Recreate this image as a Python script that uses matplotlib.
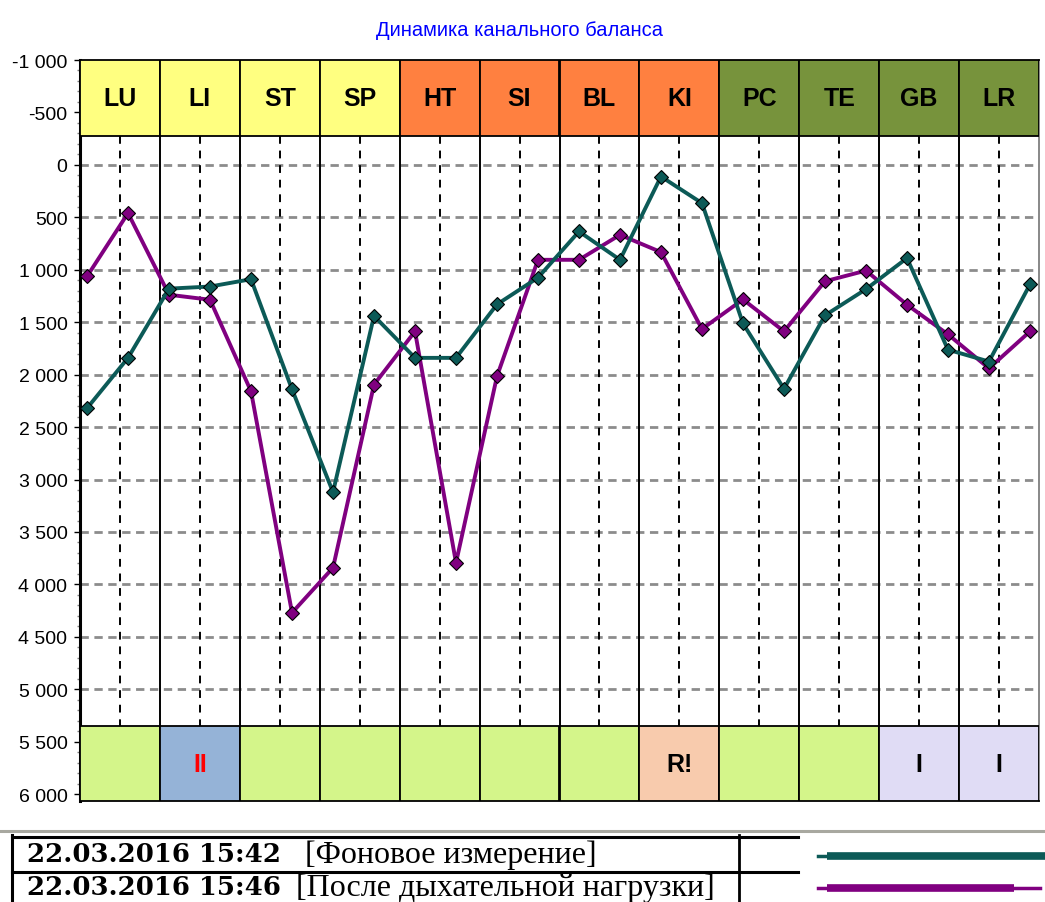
import numpy as np
import matplotlib
matplotlib.use("Agg")
import matplotlib.pyplot as plt
from matplotlib.patches import Rectangle
from matplotlib.lines import Line2D
from matplotlib.ticker import FuncFormatter, MultipleLocator
from matplotlib import font_manager

# ---------------- data ----------------
channels = ["LU", "LI", "ST", "SP", "HT", "SI", "BL", "KI", "PC", "TE", "GB", "LR"]
header_colors = ["#FFFF80"] * 4 + ["#FF8040"] * 4 + ["#77933C"] * 4
bottom_labels = ["", "II", "", "", "", "", "", "R!", "", "", "I", "I"]
bottom_label_colors = ["black", "red", "black", "black", "black", "black", "black",
                       "black", "black", "black", "black", "black"]
bottom_colors = ["#D4F58A", "#95B3D7", "#D4F58A", "#D4F58A", "#D4F58A", "#D4F58A",
                 "#D4F58A", "#F8CBAD", "#D4F58A", "#D4F58A", "#E0DCF5", "#E0DCF5"]

series_bg = [2320, 1840, 1180, 1160, 1090, 2140, 3120, 1440, 1840, 1840, 1330, 1075,
             635, 905, 111, 365, 1512, 2135, 1435, 1185, 889, 1762, 1875, 1140]
series_after = [1063, 460, 1238, 1286, 2159, 4270, 3841, 2095, 1587, 3794, 2015, 905,
                905, 667, 832, 1565, 1283, 1587, 1110, 1008, 1333, 1616, 1940, 1588]

title = "Динамика канального баланса"
legend_dates = ["22.03.2016 15:42", "22.03.2016 15:46"]
legend_names = ["[Фоновое измерение]", "[После дыхательной нагрузки]"]
color_bg = "#0C5A57"
color_after = "#800080"

# ---------------- fonts ----------------
names = {f.name for f in font_manager.fontManager.ttflist}
narrow = "Liberation Sans Narrow" in names
head_font = "Liberation Sans Narrow" if narrow else "Liberation Sans"
head_size = 20 if narrow else 18

W, H = 1045, 903
fig = plt.figure(figsize=(W / 100, H / 100), dpi=100)
fig.patch.set_facecolor("white")

def fx(px):
    return px / W

def fy(py):
    return 1 - py / H

ax = fig.add_axes([fx(80), fy(802), fx(1039) - fx(80), fy(61) - fy(802)])
ax.set_xlim(0, 12)
ax.set_ylim(6065, -1000)

head_bot = -278
band_top = 5350

# horizontal dashed grid
for v in np.arange(0, 5001, 500):
    ax.plot([0, 12], [v, v], color="#8C8C8C", lw=2.0, ls=(0, (3, 2)), zorder=1)
# vertical dashed middles
for i in range(12):
    ax.plot([i + 0.5, i + 0.5], [head_bot, band_top], color="black", lw=1.4,
            ls=(0, (4, 3.5)), zorder=1)

# header band and bottom band
for i, ch in enumerate(channels):
    ax.add_patch(Rectangle((i, -1000), 1, head_bot + 1000, facecolor=header_colors[i],
                           edgecolor="black", lw=1.3, zorder=3))
    ax.text(i + 0.5, (-1000 + head_bot) / 2, ch, ha="center", va="center",
            fontsize=head_size, fontweight="bold", family=head_font, zorder=4)
    ax.add_patch(Rectangle((i, band_top), 1, 6065 - band_top, facecolor=bottom_colors[i],
                           edgecolor="black", lw=1.3, zorder=3))
    if bottom_labels[i]:
        ax.text(i + 0.5, (band_top + 6065) / 2, bottom_labels[i], ha="center", va="center",
                fontsize=head_size, fontweight="bold", family=head_font,
                color=bottom_label_colors[i], zorder=4)

# solid column boundaries
for i in range(1, 12):
    ax.plot([i, i], [-1000, 6065], color="black", lw=1.4, zorder=2)

# series
n = len(series_bg)
xs = np.linspace(0.088, 11.887, n)
ax.plot(xs, series_bg, color=color_bg, lw=2.8, marker="D", markersize=7.5,
        markerfacecolor=color_bg, markeredgecolor="black", markeredgewidth=0.8, zorder=6)
ax.plot(xs, series_after, color=color_after, lw=2.8, marker="D", markersize=7.5,
        markerfacecolor=color_after, markeredgecolor="black", markeredgewidth=0.8, zorder=5)

# axes styling
ax.set_xticks([])
ax.yaxis.set_major_locator(MultipleLocator(500))
ax.yaxis.set_minor_locator(MultipleLocator(100))
ax.yaxis.set_major_formatter(FuncFormatter(
    lambda v, p: ("-" if v < 0 else "") + f"{abs(int(round(v))):,}".replace(",", " ")))
ax.tick_params(axis="y", which="major", length=4, width=1, pad=5, labelsize=14,
               colors="black")
ax.tick_params(axis="y", which="minor", length=2, width=1, color="#808080")
for lab in ax.get_yticklabels():
    lab.set_family("Liberation Sans")
for s in ax.spines.values():
    s.set_color("black")
    s.set_linewidth(1.3)
ax.spines["left"].set_linewidth(2.2)
ax.spines["right"].set_color("#7F7F7F")

# title
fig.text(fx(520), fy(30), title, ha="center", va="center", color="#0000FF",
         fontsize=14.5, family="Liberation Sans")

# ---------------- legend table ----------------
def hline(x0, x1, y, color="black", lw=2.0):
    fig.add_artist(Line2D([fx(x0), fx(x1)], [fy(y), fy(y)], color=color, lw=lw))

def vline(x, y0, y1, color="black", lw=2.0):
    fig.add_artist(Line2D([fx(x), fx(x)], [fy(y0), fy(y1)], color=color, lw=lw))

hline(0, W, 832, color="#A8A8A0", lw=2.2)
hline(12, 798, 837.5, lw=2.2)
hline(12, 798, 872.5, lw=2.2)
vline(12, 836, 903, lw=2.2)
vline(739, 836, 903, lw=2.0)

row_y = [855, 888]
bracket_x = [305, 296]
for k in range(2):
    fig.text(fx(27), fy(row_y[k]), legend_dates[k], ha="left", va="center",
             fontsize=18.7, fontweight="bold", family="DejaVu Serif")
    fig.text(fx(bracket_x[k]), fy(row_y[k]), legend_names[k], ha="left", va="center",
             fontsize=23, family="Liberation Serif")

fig.add_artist(Line2D([fx(818), fx(828)], [fy(856.5), fy(856.5)], color=color_bg, lw=2.5))
fig.add_artist(Line2D([fx(827), fx(1045)], [fy(856.5), fy(856.5)], color=color_bg, lw=5.5,
                      solid_capstyle="butt"))
fig.add_artist(Line2D([fx(818), fx(828)], [fy(888.5), fy(888.5)], color=color_after, lw=2.5))
fig.add_artist(Line2D([fx(827), fx(1014)], [fy(888.5), fy(888.5)], color=color_after, lw=5.5,
                      solid_capstyle="butt"))
fig.add_artist(Line2D([fx(1013), fx(1040)], [fy(888.5), fy(888.5)], color=color_after, lw=2.5))

fig.savefig("out.png", dpi=100)
